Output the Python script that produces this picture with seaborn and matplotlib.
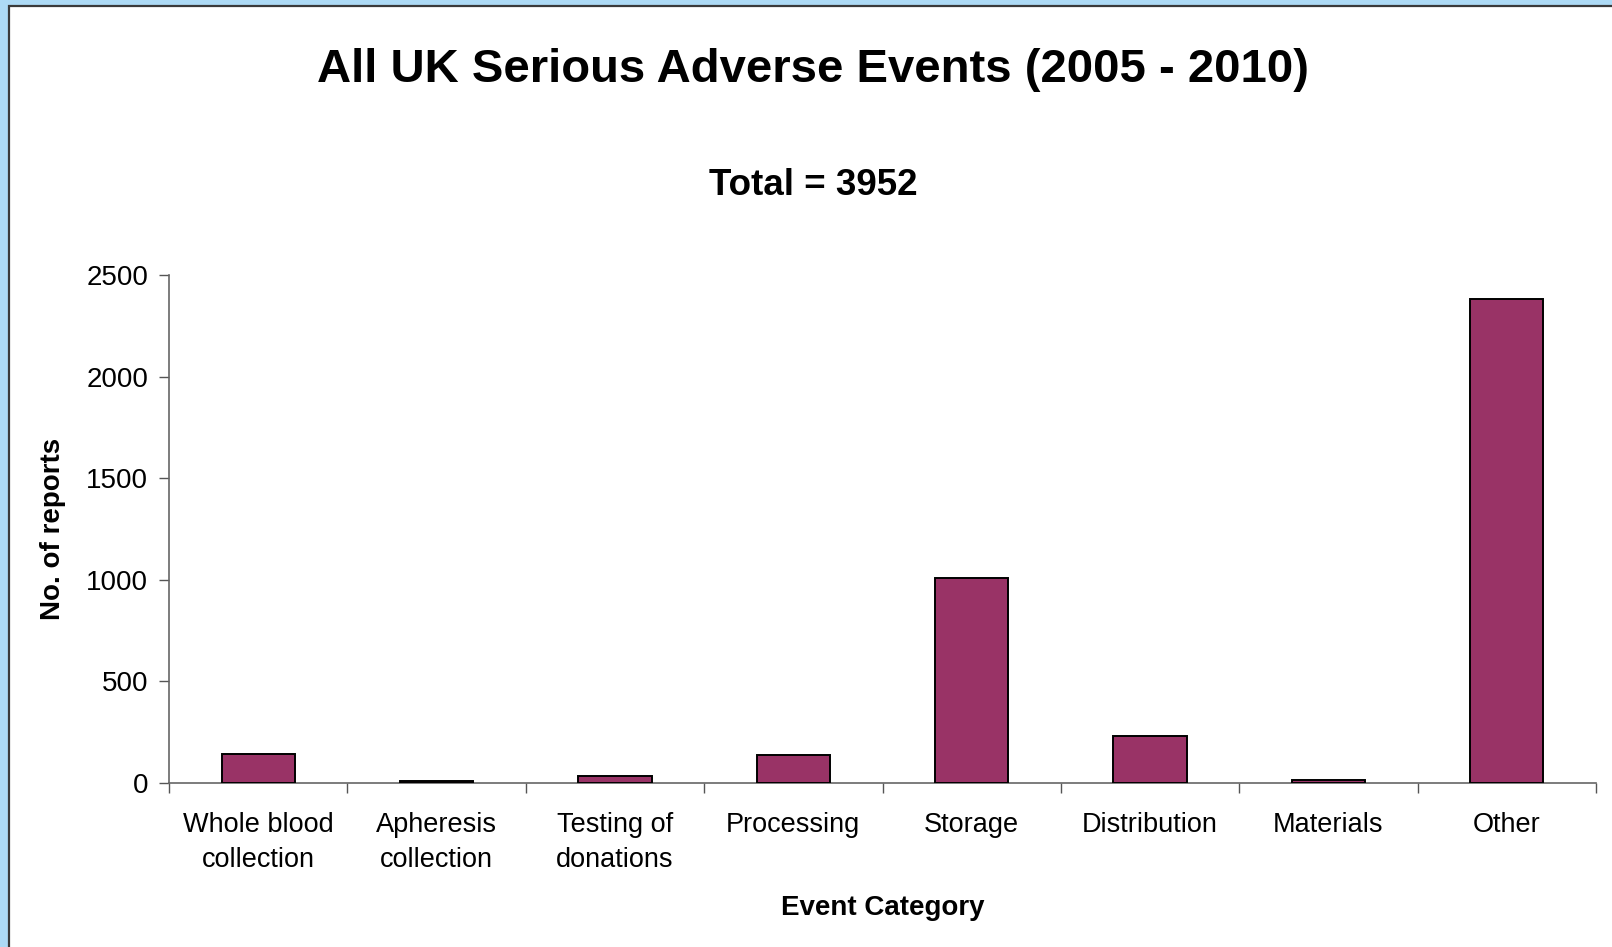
import matplotlib
matplotlib.use("Agg")
import matplotlib.pyplot as plt
from matplotlib.patches import Rectangle
import seaborn as sns
import pandas as pd

categories = ["Whole blood\ncollection", "Apheresis\ncollection", "Testing of\ndonations",
              "Processing", "Storage", "Distribution", "Materials", "Other"]
reports = [145, 8, 33, 138, 1008, 230, 16, 2384]
y_ticks = [0, 500, 1000, 1500, 2000, 2500]

df = pd.DataFrame({"category": categories, "reports": reports})

sns.set_theme(style="white")
plt.rcParams["font.family"] = ["Liberation Sans", "DejaVu Sans"]

W, H = 1612, 947
fig = plt.figure(figsize=(W / 100, H / 100), dpi=100)
fig.patch.set_facecolor("#ADDAF5")

# white panel with a dark frame on top of the light blue page
panel = Rectangle((8.5 / W, -0.01), 1.02, 1 - 5.5 / H + 0.01, transform=fig.transFigure,
                  facecolor="white", edgecolor="#3a3a3a", linewidth=1.6, zorder=-5)
fig.patches.append(panel)

ax = fig.add_axes([169 / W, 1 - 783 / H, (1596 - 169) / W, (783 - 275) / H])
ax.set_zorder(2)
ax.set_facecolor("none")

sns.barplot(data=df, x="category", y="reports", color="#993366", saturation=1,
            edgecolor="black", linewidth=1.4, width=0.41, ax=ax, zorder=3)

ax.set_xlim(-0.5, len(categories) - 0.5)
ax.set_ylim(0, 2500)
ax.set_yticks(y_ticks)
ax.set_yticklabels([str(t) for t in y_ticks], fontsize=20)
ax.set_xticks(range(len(categories)))
ax.set_xticklabels(categories, fontsize=19.5, linespacing=1.42)
ax.set_xticks([i - 0.5 for i in range(len(categories) + 1)], minor=True)

ax.tick_params(axis="x", which="major", bottom=True, length=0, pad=21)
ax.tick_params(axis="x", which="minor", bottom=True, length=7, width=1,
               color="#555555", direction="out")
ax.tick_params(axis="y", which="major", left=True, length=7, width=1,
               color="#555555", direction="out", pad=8)
for lbl in ax.get_yticklabels() + ax.get_xticklabels():
    lbl.set_color("black")

for side in ("top", "right"):
    ax.spines[side].set_visible(False)
for side in ("left", "bottom"):
    ax.spines[side].set_visible(True)
    ax.spines[side].set_color("#666666")
    ax.spines[side].set_linewidth(1.2)

ax.set_xlabel("Event Category", fontsize=20, fontweight="bold", color="black")
ax.set_ylabel("No. of reports", fontsize=20, fontweight="bold", color="black")
ax.xaxis.set_label_coords(0.5, -(895 - 783) / (783 - 275))
ax.yaxis.set_label_coords(-(169 - 66) / (1596 - 169), 0.5)

fig.text(813 / W, 1 - 70 / H, "All UK Serious Adverse Events (2005 - 2010)",
         ha="center", va="center", fontsize=34, fontweight="bold", color="black")
fig.text(813 / W, 1 - 185 / H, "Total = 3952",
         ha="center", va="center", fontsize=26.5, fontweight="bold", color="black")

fig.savefig("out.png", dpi=100, facecolor=fig.get_facecolor())
